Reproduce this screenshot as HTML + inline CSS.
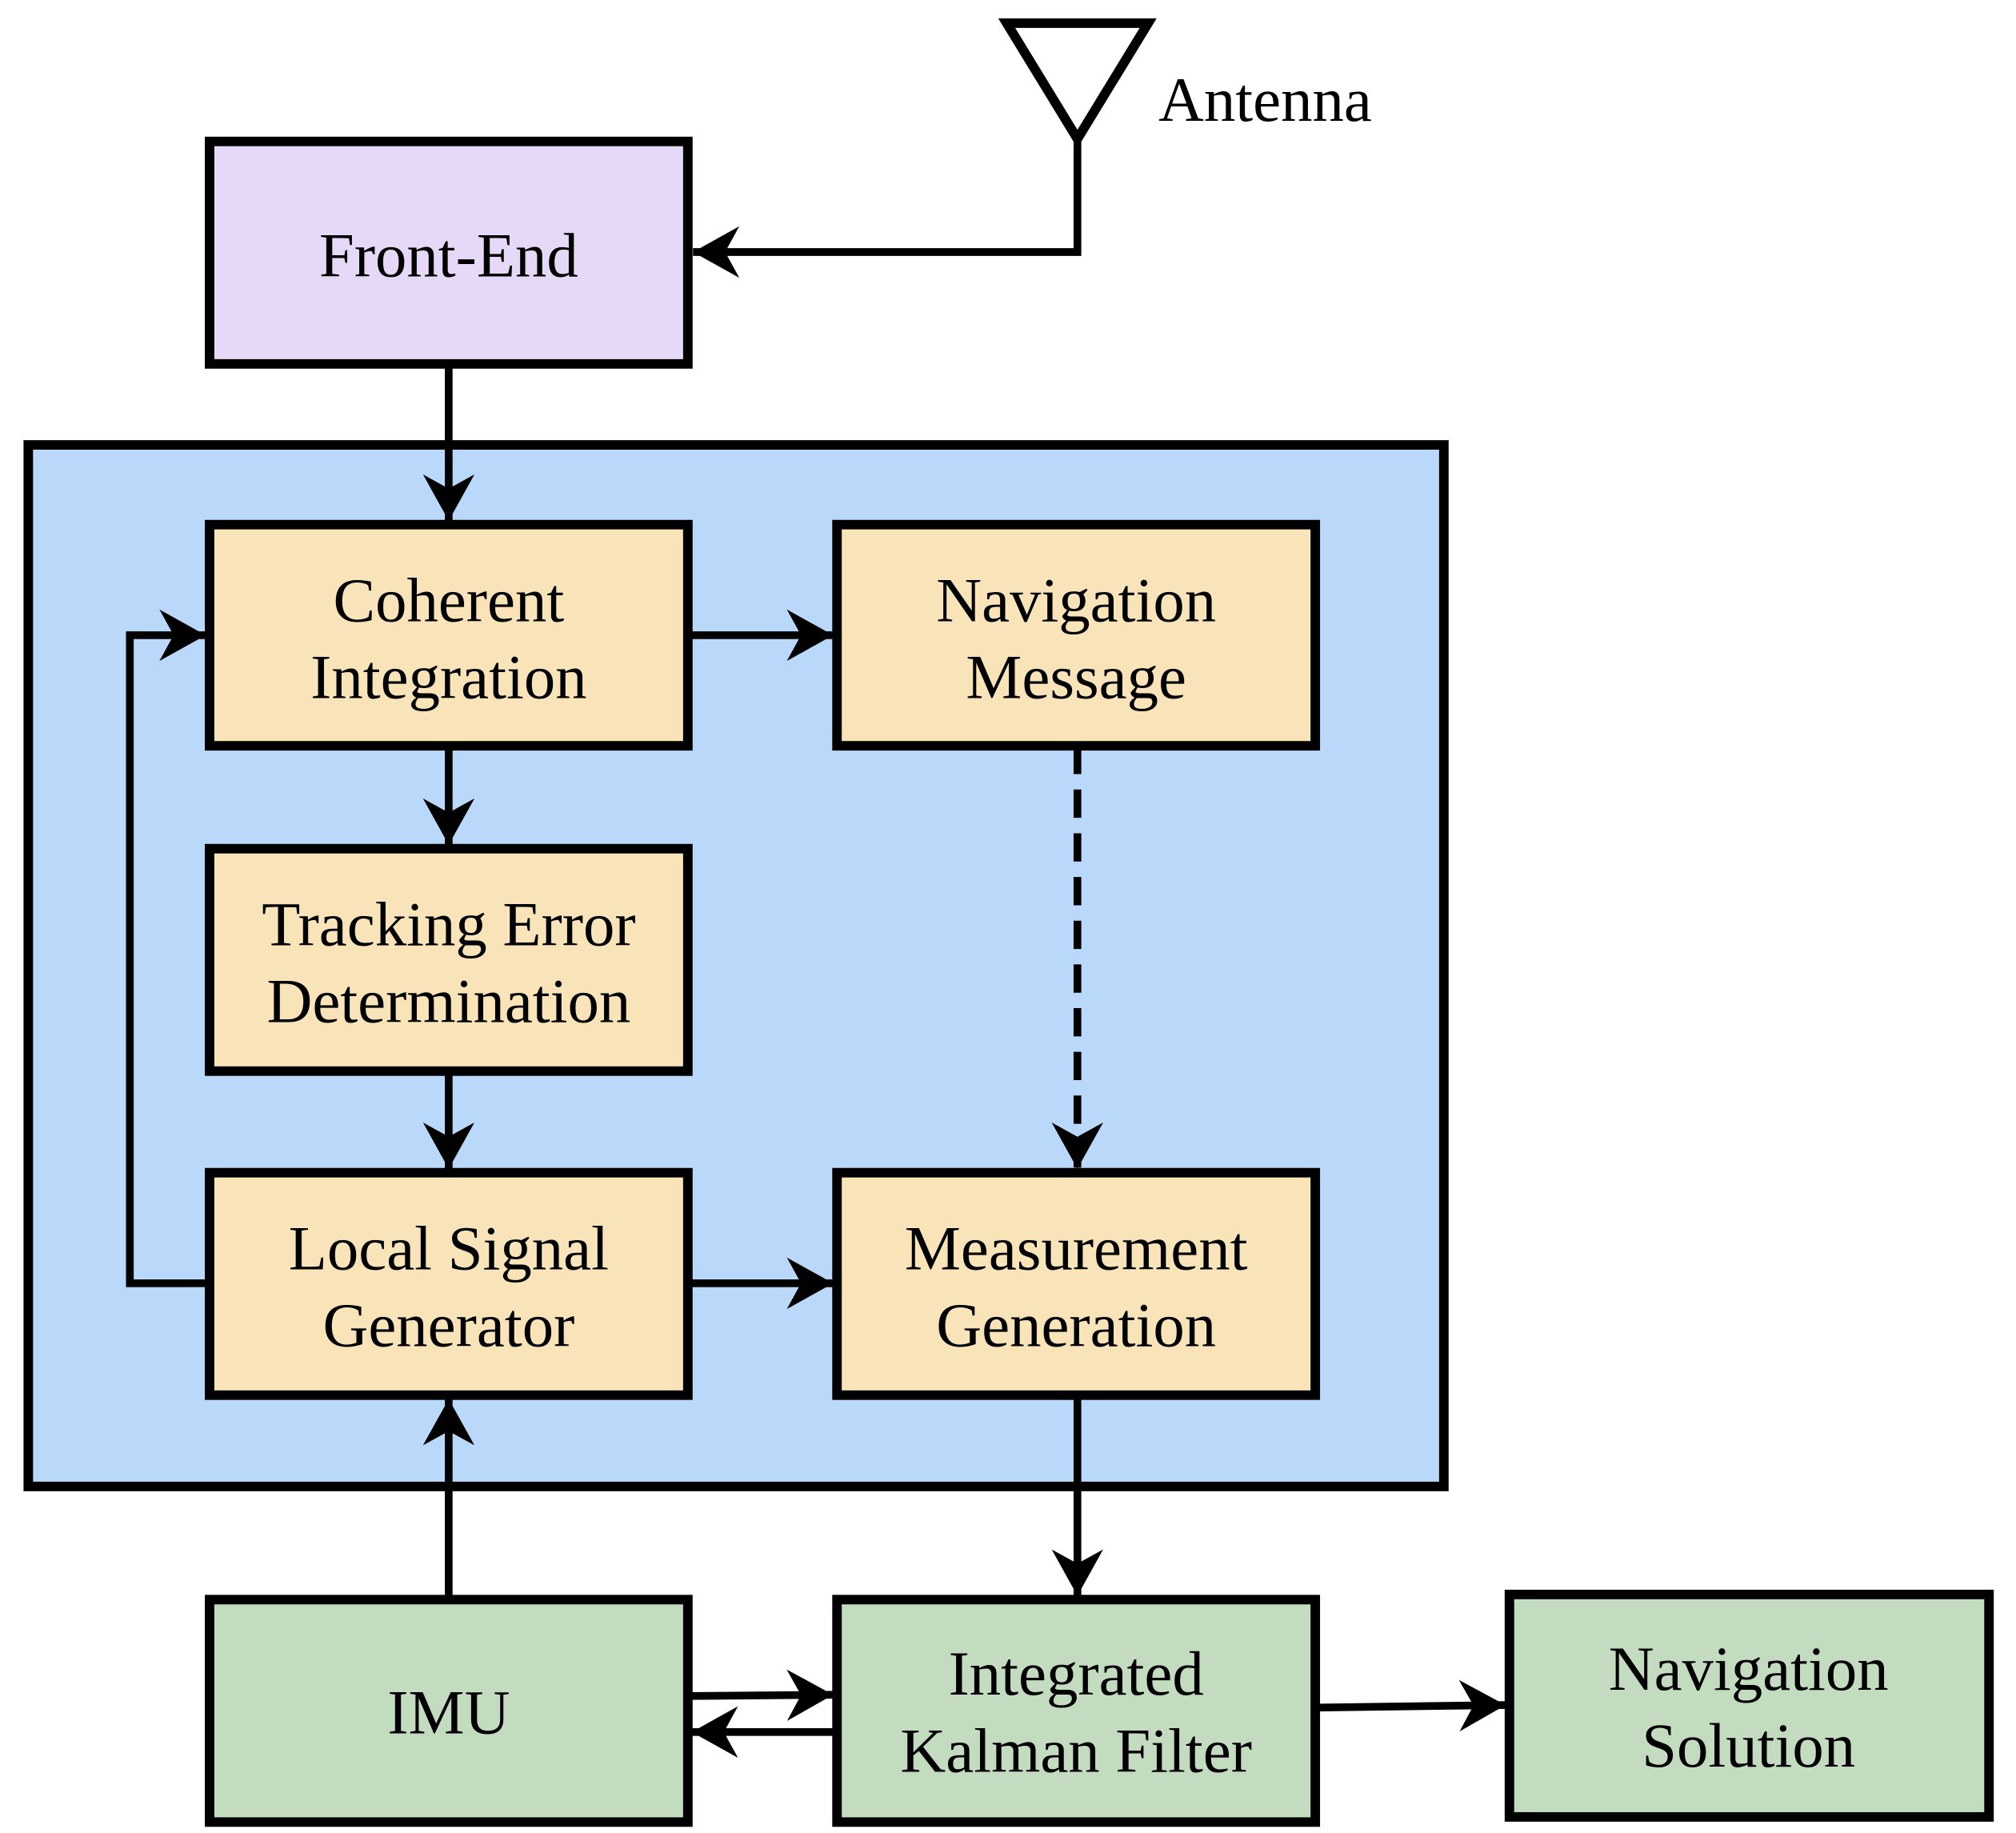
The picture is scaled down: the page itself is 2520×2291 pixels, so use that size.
<!DOCTYPE html>
<html><head><meta charset="utf-8"><style>
html,body{margin:0;padding:0;background:#fff;}
svg{display:block;}
text{font-family:"Liberation Serif",serif;font-size:49px;fill:#000;text-anchor:middle;}
</style></head><body>
<svg width="2520" height="2291" viewBox="0 0 1568 1425.5" xmlns="http://www.w3.org/2000/svg">
<defs>
<marker id="a" markerUnits="userSpaceOnUse" markerWidth="44" markerHeight="48" refX="36" refY="22" orient="auto">
<path d="M0,2 L36,22 L0,42 L11,22 Z" fill="#000"/>
</marker>
</defs>
<g stroke="#000" stroke-width="7.4">
<rect x="22" y="346" width="1101" height="810" fill="#b9d8fa"/>
<rect x="163" y="110" width="372" height="173" fill="#e6d9f8"/>
<rect x="163" y="408" width="372" height="172" fill="#f9e3b8"/>
<rect x="651" y="408" width="372" height="172" fill="#f9e3b8"/>
<rect x="163" y="660" width="372" height="173" fill="#f9e3b8"/>
<rect x="163" y="912" width="372" height="173" fill="#f9e3b8"/>
<rect x="651" y="912" width="372" height="173" fill="#f9e3b8"/>
<rect x="163" y="1244" width="372" height="173" fill="#c3dcc0"/>
<rect x="651" y="1244" width="372" height="173" fill="#c3dcc0"/>
<rect x="1174" y="1240" width="373" height="173" fill="#c3dcc0"/>
<path d="M783,18 L893,18 L838,108 Z" fill="none"/>
</g>
<g stroke="#000" stroke-width="6" fill="none">
<path d="M838,108 L838,196 L539,196" marker-end="url(#a)"/>
<path d="M349,283 L349,405" marker-end="url(#a)"/>
<path d="M535,494 L648,494" marker-end="url(#a)"/>
<path d="M349,580 L349,657" marker-end="url(#a)"/>
<path d="M838,580 L838,909" stroke-dasharray="22,12" marker-end="url(#a)"/>
<path d="M349,833 L349,909" marker-end="url(#a)"/>
<path d="M163,998 L101,998 L101,494 L160,494" marker-end="url(#a)"/>
<path d="M535,998 L648,998" marker-end="url(#a)"/>
<path d="M349,1244 L349,1088" marker-end="url(#a)"/>
<path d="M838,1085 L838,1241" marker-end="url(#a)"/>
<path d="M535,1319 L648,1318" marker-end="url(#a)"/>
<path d="M651,1347 L538,1347" marker-end="url(#a)"/>
<path d="M1023,1328 L1171,1326" marker-end="url(#a)"/>
</g>
<text x="984" y="94">Antenna</text>
<text x="349" y="215">Front-End</text>
<text x="349" y="483">Coherent</text>
<text x="349" y="543">Integration</text>
<text x="837" y="483">Navigation</text>
<text x="837" y="543">Message</text>
<text x="349" y="735">Tracking Error</text>
<text x="349" y="795">Determination</text>
<text x="349" y="987">Local Signal</text>
<text x="349" y="1047">Generator</text>
<text x="837" y="987">Measurement</text>
<text x="837" y="1047">Generation</text>
<text x="349" y="1348">IMU</text>
<text x="837" y="1318">Integrated</text>
<text x="837" y="1378">Kalman Filter</text>
<text x="1360" y="1314">Navigation</text>
<text x="1360" y="1374">Solution</text>
</svg>
</body></html>
